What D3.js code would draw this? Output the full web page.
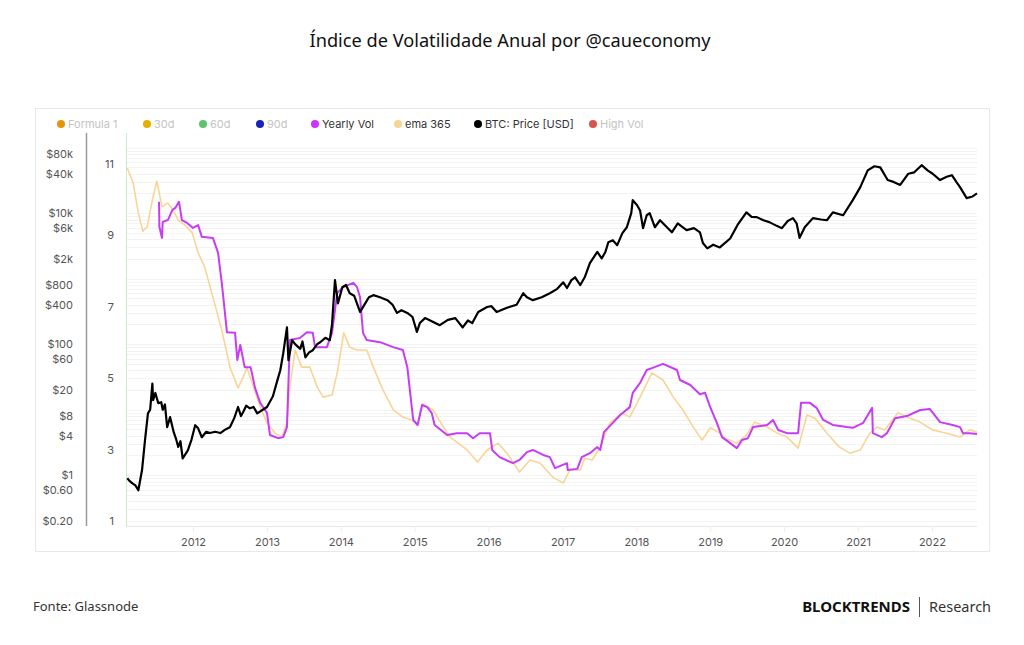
<!DOCTYPE html>
<html>
<head>
<meta charset="utf-8">
<script src="https://cdn.jsdelivr.net/npm/d3@7"></script>
<style>
  body { margin: 0; background: #fff; }
  svg { display: block; }
</style>
</head>
<body>
<div id="chart"></div>
<script>
// decimal year, value
var priceSeries = [
  [2011.11, 0.9], [2011.14, 0.82], [2011.18, 0.75], [2011.22, 0.7], [2011.26, 0.59], [2011.31, 1.2], [2011.35, 3.4], [2011.39, 8.8],
  [2011.42, 10], [2011.45, 25], [2011.46, 14], [2011.49, 18], [2011.53, 12.6], [2011.57, 13], [2011.59, 10], [2011.62, 12],
  [2011.65, 5.4], [2011.69, 7.7], [2011.74, 4.5], [2011.77, 3.6], [2011.80, 2.7], [2011.83, 3.3], [2011.86, 1.8],
  [2011.93, 2.4], [2011.98, 3.5], [2012.03, 5.8], [2012.07, 5.2], [2012.12, 3.8], [2012.18, 4.6], [2012.23, 4.4], [2012.30, 4.6], [2012.37, 4.4],
  [2012.44, 5.0], [2012.50, 5.4], [2012.56, 7.5], [2012.61, 11], [2012.65, 8], [2012.68, 9.2], [2012.72, 11.5], [2012.77, 10.5], [2012.82, 11], [2012.87, 8.8], [2013.00, 11],
  [2013.08, 16], [2013.14, 28], [2013.18, 40], [2013.22, 73], [2013.27, 181], [2013.29, 57], [2013.34, 115], [2013.38, 100], [2013.45, 85],
  [2013.48, 110], [2013.52, 63], [2013.57, 75], [2013.62, 81], [2013.68, 100], [2013.72, 107], [2013.79, 125], [2013.85, 115], [2013.88, 200], [2013.92, 950], [2013.96, 420],
  [2014.02, 740], [2014.07, 800], [2014.12, 600], [2014.18, 550], [2014.26, 310], [2014.33, 420], [2014.38, 520], [2014.44, 560], [2014.53, 520],
  [2014.63, 470], [2014.70, 400], [2014.76, 300], [2014.82, 330], [2014.90, 300], [2014.97, 260], [2015.03, 154], [2015.07, 210], [2015.14, 250], [2015.21, 230],
  [2015.34, 195], [2015.45, 235], [2015.55, 250], [2015.65, 180], [2015.72, 230], [2015.78, 210], [2015.86, 310], [2015.98, 370],
  [2016.04, 380], [2016.11, 310], [2016.25, 360], [2016.38, 400], [2016.47, 600], [2016.52, 520], [2016.60, 470], [2016.72, 520], [2016.83, 600],
  [2016.93, 700], [2017.01, 880], [2017.06, 720], [2017.12, 950], [2017.17, 1050], [2017.24, 800], [2017.30, 1050], [2017.37, 1730], [2017.47, 2560],
  [2017.53, 2040], [2017.58, 2560], [2017.62, 3600], [2017.68, 3850], [2017.74, 3250], [2017.81, 4950],
  [2017.87, 6100], [2017.93, 10000], [2017.95, 15800], [2018.01, 13200], [2018.05, 11000], [2018.09, 5900],
  [2018.14, 9300], [2018.18, 10000], [2018.25, 6100], [2018.32, 7800], [2018.40, 6300], [2018.48, 5100], [2018.56, 7000],
  [2018.62, 6200], [2018.68, 5500], [2018.78, 5900], [2018.86, 5100], [2018.90, 3500], [2018.96, 2900], [2019.04, 3300], [2019.13, 3000],
  [2019.27, 4100], [2019.37, 6600], [2019.49, 10300], [2019.56, 8800], [2019.63, 8700], [2019.72, 7800], [2019.80, 7300], [2019.90, 6400], [2019.97, 5900],
  [2020.05, 7600], [2020.12, 8400], [2020.17, 7000], [2020.21, 4200], [2020.28, 6100], [2020.39, 8400], [2020.50, 8000], [2020.58, 7800], [2020.66, 10300],
  [2020.80, 9300], [2020.93, 15800], [2021.03, 25000], [2021.13, 45000], [2021.22, 52000], [2021.30, 50000], [2021.40, 32000],
  [2021.48, 30000], [2021.57, 27000], [2021.68, 40000], [2021.76, 42000], [2021.86, 54000], [2021.94, 45000], [2022.01, 40000], [2022.11, 32000], [2022.20, 36000], [2022.27, 38000],
  [2022.33, 30000], [2022.38, 25000], [2022.47, 17000], [2022.55, 18000], [2022.61, 20000]
];

var yearlyVolSeries = [
  [2011.54, 9.94], [2011.545, 9.24], [2011.58, 8.93], [2011.59, 9.38], [2011.66, 9.43], [2011.72, 9.71],
  [2011.76, 9.77], [2011.81, 9.94], [2011.85, 9.43], [2011.92, 9.35], [2012.00, 9.21], [2012.07, 9.29],
  [2012.12, 8.96], [2012.27, 8.93], [2012.34, 8.51], [2012.39, 7.67], [2012.46, 6.29], [2012.57, 6.27],
  [2012.60, 5.51], [2012.64, 5.93], [2012.70, 5.31], [2012.78, 5.31], [2012.84, 4.73], [2012.91, 4.31],
  [2013.00, 4.03], [2013.04, 3.41], [2013.15, 3.32], [2013.22, 3.35], [2013.27, 3.63], [2013.31, 6.07],
  [2013.45, 6.13], [2013.54, 6.29], [2013.62, 6.27], [2013.65, 5.87], [2013.81, 5.87], [2013.88, 6.27],
  [2013.95, 7.39], [2014.03, 7.55], [2014.17, 7.67], [2014.22, 7.55], [2014.26, 7.27], [2014.30, 6.27],
  [2014.35, 6.07], [2014.53, 6.01], [2014.71, 5.87], [2014.84, 5.79], [2014.90, 5.31], [2014.96, 4.19],
  [2014.98, 3.83], [2015.04, 3.69], [2015.10, 4.25], [2015.17, 4.19], [2015.23, 4.03], [2015.27, 3.69],
  [2015.44, 3.41], [2015.57, 3.46], [2015.71, 3.46], [2015.79, 3.32], [2015.88, 3.46], [2016.02, 3.46],
  [2016.05, 2.99], [2016.15, 2.79], [2016.33, 2.62], [2016.42, 2.71], [2016.52, 2.93], [2016.60, 2.99],
  [2016.74, 2.85], [2016.83, 2.79], [2016.90, 2.48], [2017.06, 2.62], [2017.07, 2.43], [2017.20, 2.46],
  [2017.26, 2.79], [2017.37, 2.90], [2017.47, 3.07], [2017.51, 2.99], [2017.56, 3.49], [2017.68, 3.75],
  [2017.78, 3.97], [2017.91, 4.19], [2017.95, 4.59], [2018.05, 4.87], [2018.14, 5.23], [2018.22, 5.29],
  [2018.36, 5.40], [2018.55, 5.23], [2018.59, 4.95], [2018.73, 4.81], [2018.86, 4.55], [2018.93, 4.59],
  [2019.00, 4.19], [2019.09, 3.75], [2019.16, 3.35], [2019.27, 3.18], [2019.36, 3.04], [2019.43, 3.27],
  [2019.51, 3.32], [2019.58, 3.63], [2019.77, 3.69], [2019.85, 3.83], [2019.92, 3.55], [2020.04, 3.46],
  [2020.19, 3.46], [2020.23, 4.31], [2020.35, 4.31], [2020.44, 4.17], [2020.53, 3.83], [2020.66, 3.69],
  [2020.85, 3.63], [2020.93, 3.61], [2021.07, 3.75], [2021.19, 4.17], [2021.20, 3.46], [2021.32, 3.35],
  [2021.39, 3.46], [2021.50, 3.88], [2021.66, 3.94], [2021.84, 4.11], [2021.97, 4.14], [2022.11, 3.77],
  [2022.28, 3.69], [2022.38, 3.63], [2022.42, 3.46], [2022.51, 3.46], [2022.61, 3.44]
];

var ema365Series = [
  [2011.11, 10.89], [2011.19, 10.47], [2011.26, 9.63], [2011.32, 9.12], [2011.38, 9.24], [2011.45, 9.99],
  [2011.51, 10.52], [2011.58, 9.80], [2011.66, 9.91], [2011.73, 9.71], [2011.80, 9.43], [2011.89, 9.29],
  [2011.99, 9.07], [2012.07, 8.51], [2012.16, 8.11], [2012.27, 7.27], [2012.39, 6.35], [2012.50, 5.31],
  [2012.61, 4.73], [2012.68, 5.03], [2012.73, 5.29], [2012.80, 4.87], [2012.91, 4.19], [2013.00, 3.75],
  [2013.11, 3.46], [2013.20, 3.35], [2013.27, 3.75], [2013.31, 4.75], [2013.38, 5.79], [2013.47, 5.31],
  [2013.58, 5.31], [2013.68, 4.75], [2013.76, 4.47], [2013.88, 4.53], [2013.95, 5.15], [2014.04, 6.27],
  [2014.12, 5.87], [2014.22, 5.79], [2014.35, 5.79], [2014.44, 5.31], [2014.57, 4.67], [2014.71, 4.11],
  [2014.84, 3.91], [2014.96, 3.83], [2015.04, 3.69], [2015.11, 4.28], [2015.25, 4.11], [2015.33, 3.83],
  [2015.48, 3.35], [2015.71, 2.99], [2015.85, 2.65], [2015.98, 2.99], [2016.13, 3.18], [2016.25, 2.90],
  [2016.42, 2.37], [2016.56, 2.71], [2016.70, 2.62], [2016.87, 2.23], [2017.01, 2.06], [2017.10, 2.43],
  [2017.24, 2.43], [2017.30, 2.76], [2017.40, 2.71], [2017.51, 3.07], [2017.64, 3.75], [2017.81, 4.03],
  [2017.91, 3.91], [2018.05, 4.47], [2018.21, 5.15], [2018.36, 4.95], [2018.50, 4.47], [2018.63, 4.11],
  [2018.77, 3.63], [2018.89, 3.27], [2019.00, 3.61], [2019.11, 3.49], [2019.20, 3.32], [2019.36, 3.18],
  [2019.49, 3.41], [2019.60, 3.77], [2019.77, 3.63], [2019.91, 3.46], [2020.04, 3.35], [2020.19, 3.04],
  [2020.31, 3.97], [2020.42, 3.88], [2020.58, 3.46], [2020.75, 3.07], [2020.89, 2.90], [2021.03, 2.99],
  [2021.16, 3.46], [2021.26, 3.63], [2021.36, 3.55], [2021.54, 4.03], [2021.66, 3.91], [2021.84, 3.77],
  [2022.01, 3.55], [2022.20, 3.46], [2022.38, 3.35], [2022.51, 3.55], [2022.61, 3.49]
];

var priceTicks = [0.2, 0.6, 1, 4, 8, 20, 60, 100, 400, 800, 2000, 6000, 10000, 40000, 80000];
var priceTickLabels = ['$0.20', '$0.60', '$1', '$4', '$8', '$20', '$60', '$100', '$400', '$800', '$2k', '$6k', '$10k', '$40k', '$80k'];
var volTicks = [1, 3, 5, 7, 9, 11];
var yearTicks = [2012, 2013, 2014, 2015, 2016, 2017, 2018, 2019, 2020, 2021, 2022];

var legendNames = ['Formula 1', '30d', '60d', '90d', 'Yearly Vol', 'ema 365', 'BTC: Price [USD]', 'High Vol'];
var legendColors = ['#e8930c', '#e6b000', '#5cc46a', '#1a23b8', '#cc33ff', '#f8d596', '#000000', '#d9534f'];
var legendActive = [false, false, false, false, true, true, true, false];

var width = 1024, height = 645;
var plot = { left: 126, right: 977, top: 133, bottom: 526 };

function toDate(y) {
  var yr = Math.floor(y);
  return new Date(Date.UTC(yr, 0, 1) + (y - yr) * 365.25 * 864e5);
}

var svg = d3.select('#chart').append('svg')
  .attr('width', width)
  .attr('height', height);

var font = 'Inter, "Noto Sans", sans-serif';

// title
svg.append('text')
  .attr('x', 510)
  .attr('y', 47)
  .attr('text-anchor', 'middle')
  .style('font-family', '"Noto Sans", sans-serif')
  .style('font-size', '18.2px')
  .style('fill', '#111')
  .text('Índice de Volatilidade Anual por @caueconomy');

// panel
svg.append('rect')
  .attr('x', 35.5).attr('y', 108.5)
  .attr('width', 954).attr('height', 443)
  .attr('fill', '#fff')
  .attr('stroke', '#e8e8e8');

var x = d3.scaleUtc()
  .domain([toDate(2011.093), toDate(2022.61)])
  .range([plot.left, plot.right]);

var yPrice = d3.scaleLog()
  .domain([0.2, 80000])
  .range([521, 154]);

var yVol = d3.scaleLinear()
  .domain([1, 11])
  .range([521, 164]);

// grid lines (price log minor ticks)
var gridVals = [];
for (var e = -1; e <= 5; e++) {
  for (var m = 1; m <= 9; m++) {
    var v = m * Math.pow(10, e);
    if (yPrice(v) > plot.top && yPrice(v) < plot.bottom - 2) gridVals.push(v);
  }
}
svg.append('g').selectAll('line')
  .data(gridVals)
  .join('line')
  .attr('x1', plot.left).attr('x2', plot.right)
  .attr('y1', function(d) { return Math.round(yPrice(d)) + 0.5; })
  .attr('y2', function(d) { return Math.round(yPrice(d)) + 0.5; })
  .attr('stroke', '#f3f3f3')
  .attr('stroke-width', 1);

// x axis
svg.append('line')
  .attr('x1', plot.left).attr('x2', plot.right)
  .attr('y1', plot.bottom + 0.5).attr('y2', plot.bottom + 0.5)
  .attr('stroke', '#e2e9e2');

var xAxis = svg.append('g')
  .attr('transform', 'translate(0,' + plot.bottom + ')')
  .call(d3.axisBottom(x)
    .tickValues(yearTicks.map(function(y) { return toDate(y); }))
    .tickFormat(d3.utcFormat('%Y'))
    .tickSize(6)
    .tickPadding(6));
xAxis.select('.domain').remove();
xAxis.selectAll('.tick line').attr('stroke', '#eeeeee');
xAxis.selectAll('.tick text')
  .style('font-family', font)
  .style('font-size', '11px')
  .style('fill', '#555');

// green left line of plot
svg.append('line')
  .attr('x1', plot.left + 0.5).attr('x2', plot.left + 0.5)
  .attr('y1', plot.top).attr('y2', plot.bottom)
  .attr('stroke', '#cdeacd');

// price axis
var priceAxis = svg.append('g')
  .attr('transform', 'translate(86,0)')
  .call(d3.axisLeft(yPrice)
    .tickValues(priceTicks)
    .tickFormat(function(d, i) { return priceTickLabels[i]; })
    .tickSize(0)
    .tickPadding(13));
priceAxis.select('.domain').remove();
priceAxis.selectAll('.tick text')
  .style('font-family', font)
  .style('font-size', '11px')
  .style('fill', '#555');

svg.append('line')
  .attr('x1', 86.5).attr('x2', 86.5)
  .attr('y1', plot.top).attr('y2', plot.bottom)
  .attr('stroke', '#9a9a9a')
  .attr('stroke-width', 1.5);

// vol axis
var volAxis = svg.append('g')
  .attr('transform', 'translate(114,0)')
  .call(d3.axisLeft(yVol)
    .tickValues(volTicks)
    .tickSize(0)
    .tickPadding(0));
volAxis.select('.domain').remove();
volAxis.selectAll('.tick text')
  .style('font-family', font)
  .style('font-size', '11px')
  .style('fill', '#555');

// lines
var volLine = d3.line()
  .x(function(d) { return x(toDate(d[0])); })
  .y(function(d) { return yVol(d[1]); });

var priceLine = d3.line()
  .x(function(d) { return x(toDate(d[0])); })
  .y(function(d) { return yPrice(d[1]); });

svg.append('path')
  .datum(ema365Series)
  .attr('d', volLine)
  .attr('fill', 'none')
  .attr('stroke', '#f8d596')
  .attr('stroke-width', 1.6)
  .attr('stroke-linejoin', 'round');

svg.append('path')
  .datum(yearlyVolSeries)
  .attr('d', volLine)
  .attr('fill', 'none')
  .attr('stroke', '#c73cf5')
  .attr('stroke-width', 2)
  .attr('stroke-linejoin', 'round');

svg.append('path')
  .datum(priceSeries)
  .attr('d', priceLine)
  .attr('fill', 'none')
  .attr('stroke', '#000')
  .attr('stroke-width', 2.2)
  .attr('stroke-linejoin', 'round');

// legend
var legendX = [61, 147, 203, 260, 315, 398, 478, 593];
var legend = svg.append('g').selectAll('g')
  .data(legendNames)
  .join('g')
  .attr('transform', function(d, i) { return 'translate(' + legendX[i] + ',124)'; });

legend.append('circle')
  .attr('r', 4)
  .attr('fill', function(d, i) { return legendColors[i]; });

legend.append('text')
  .attr('x', 7)
  .attr('dy', '0.35em')
  .style('font-family', font)
  .style('font-size', '11px')
  .style('fill', function(d, i) { return legendActive[i] ? '#333' : '#c4c4c4'; })
  .text(function(d) { return d; });

// footer
svg.append('text')
  .attr('x', 33).attr('y', 611)
  .style('font-family', '"Noto Sans", sans-serif')
  .style('font-size', '13px')
  .style('fill', '#333')
  .text('Fonte: Glassnode');

svg.append('text')
  .attr('x', 910).attr('y', 612)
  .attr('text-anchor', 'end')
  .style('font-family', '"Noto Sans", sans-serif')
  .style('font-weight', '700')
  .style('font-size', '15px')
  .style('fill', '#111')
  .text('BLOCKTRENDS');

svg.append('line')
  .attr('x1', 919.5).attr('x2', 919.5)
  .attr('y1', 597).attr('y2', 617)
  .attr('stroke', '#555');

svg.append('text')
  .attr('x', 929).attr('y', 612)
  .style('font-family', '"Noto Sans", sans-serif')
  .style('font-size', '14.5px')
  .style('fill', '#333')
  .text('Research');
</script>
</body>
</html>
